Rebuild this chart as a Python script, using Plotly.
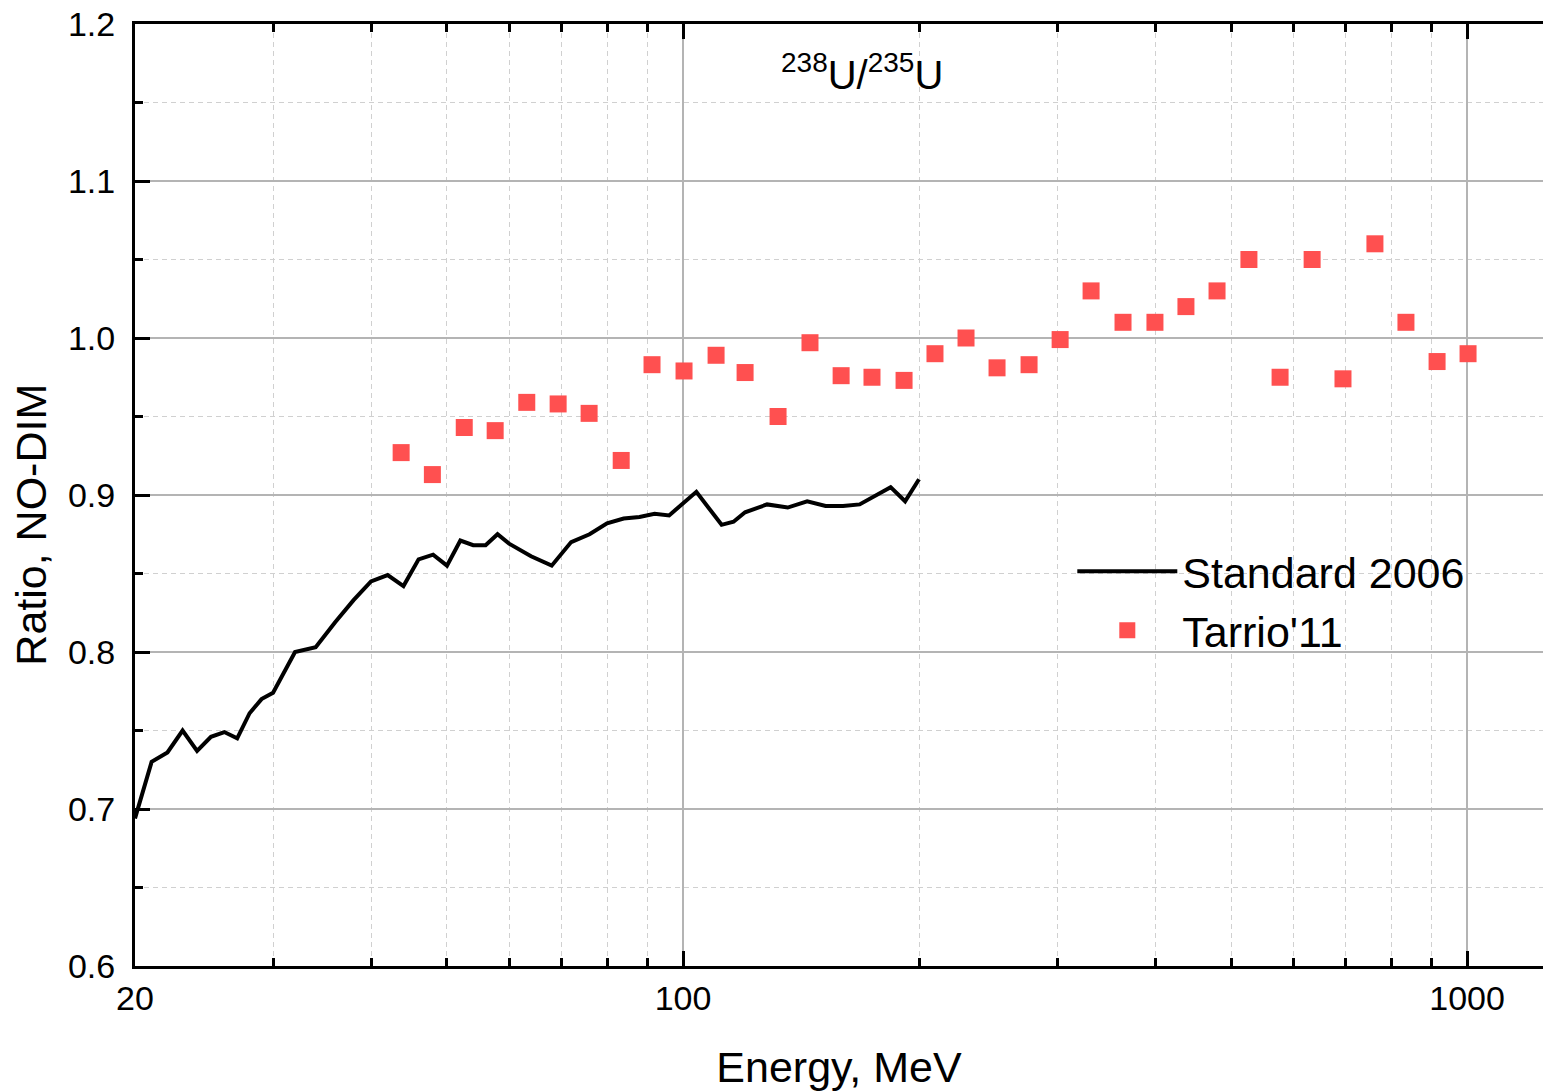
import plotly.graph_objects as go

# ---- data ----
std_energy = [20, 21, 22, 23, 24, 25, 26, 27, 28, 29, 30, 32, 34, 36, 38, 40, 42, 44, 46, 48,
              50, 52, 54, 56, 58, 60, 64, 68, 72, 76, 80, 84, 88, 92, 96, 104, 112, 116, 120,
              128, 136, 144, 152, 160, 168, 176, 184, 192, 200]
std_ratio = [0.694, 0.730, 0.736, 0.750, 0.737, 0.746, 0.749, 0.745, 0.761, 0.770, 0.774,
             0.800, 0.803, 0.819, 0.833, 0.845, 0.849, 0.842, 0.859, 0.862, 0.855, 0.871,
             0.868, 0.868, 0.875, 0.869, 0.861, 0.855, 0.870, 0.875, 0.882, 0.885, 0.886,
             0.888, 0.887, 0.902, 0.881, 0.883, 0.889, 0.894, 0.892, 0.896, 0.893, 0.893,
             0.894, 0.900, 0.905, 0.896, 0.910]

tarrio_energy = [43.7, 47.9, 52.6, 57.6, 63.2, 69.3, 75.9, 83.4, 91.3, 100.3, 110.2, 120.0,
                 132.2, 145.2, 159.1, 174.2, 191.4, 209.6, 229.6, 251.5, 276.3, 302.7, 331.5,
                 364.1, 399.9, 438.0, 479.9, 527.0, 577.5, 634.5, 694.7, 763.0, 835.8, 915.8,
                 1003.0]
tarrio_ratio = [0.927, 0.913, 0.943, 0.941, 0.959, 0.958, 0.952, 0.922, 0.983, 0.979, 0.989,
                0.978, 0.950, 0.997, 0.976, 0.975, 0.973, 0.990, 1.000, 0.981, 0.983, 0.999,
                1.030, 1.010, 1.010, 1.020, 1.030, 1.050, 0.975, 1.050, 0.974, 1.060, 1.010,
                0.985, 0.990]

x_major_ticks = [20, 100, 1000]
x_major_labels = ["20", "100", "1000"]
x_minor_ticks = [30, 40, 50, 60, 70, 80, 90, 200, 300, 400, 500, 600, 700, 800, 900]
y_major_ticks = [0.6, 0.7, 0.8, 0.9, 1.0, 1.1, 1.2]
y_major_labels = ["0.6", "0.7", "0.8", "0.9", "1.0", "1.1", "1.2"]
y_minor_ticks = [0.65, 0.75, 0.85, 0.95, 1.05, 1.15]

FONT = "Liberation Sans, Arial, sans-serif"

fig = go.Figure()
fig.add_trace(go.Scatter(
    x=std_energy, y=std_ratio, mode="lines", name="Standard 2006",
    line=dict(color="black", width=4),
))
fig.add_trace(go.Scatter(
    x=tarrio_energy, y=tarrio_ratio, mode="markers", name="Tarrio'11",
    marker=dict(symbol="square", size=17, color="#ff5050", line=dict(width=0)),
))

axis_common = dict(
    showline=True, linecolor="black", linewidth=3,
    ticks="inside", ticklen=15, tickwidth=3, tickcolor="black",
    showgrid=True, gridcolor="#b4b4b4", gridwidth=1.5,
    zeroline=False,
    tickfont=dict(family=FONT, size=34, color="black"),
)

fig.update_xaxes(
    type="log",
    range=[1.30103, 3.0969],
    tickvals=x_major_ticks, ticktext=x_major_labels,
    mirror="ticks",
    minor=dict(tickvals=x_minor_ticks, ticks="inside", ticklen=8, tickwidth=3,
               tickcolor="black", showgrid=True, gridcolor="#d0d0d0", gridwidth=1,
               griddash="5px,4px"),
    title=dict(text="Energy, MeV", font=dict(family=FONT, size=43, color="black"), standoff=38),
    **axis_common,
)
fig.update_yaxes(
    range=[0.6, 1.2],
    tickvals=y_major_ticks, ticktext=y_major_labels,
    mirror=False,
    ticklabelstandoff=10,
    minor=dict(tickvals=y_minor_ticks, ticks="inside", ticklen=8, tickwidth=3,
               tickcolor="black", showgrid=True, gridcolor="#d0d0d0", gridwidth=1,
               griddash="5px,4px"),
    **axis_common,
)

# y-axis title (placed slightly below centre, as in the reference)
fig.add_annotation(
    xref="paper", yref="paper", x=-0.0735, y=0.468, xanchor="center", yanchor="middle",
    text="Ratio, NO-DIM", textangle=-90, showarrow=False,
    font=dict(family=FONT, size=43, color="black"),
)

fig.add_annotation(
    xref="paper", yref="paper", x=0.516, y=0.949, xanchor="center", yanchor="middle",
    text="<sup>238</sup>U/<sup>235</sup>U", showarrow=False,
    font=dict(family=FONT, size=40, color="black"),
)

fig.update_layout(
    width=1543, height=1091,
    margin=dict(l=135, r=0, t=24, b=125),
    paper_bgcolor="white", plot_bgcolor="white",
    showlegend=True,
    legend=dict(
        x=0.6657, y=0.4556, xanchor="left", yanchor="top",
        bgcolor="rgba(0,0,0,0)", borderwidth=0,
        font=dict(family=FONT, size=43, color="black"),
        itemwidth=100, tracegroupgap=0,
    ),
    font=dict(family=FONT, color="black"),
)

fig.write_html("out.html")
